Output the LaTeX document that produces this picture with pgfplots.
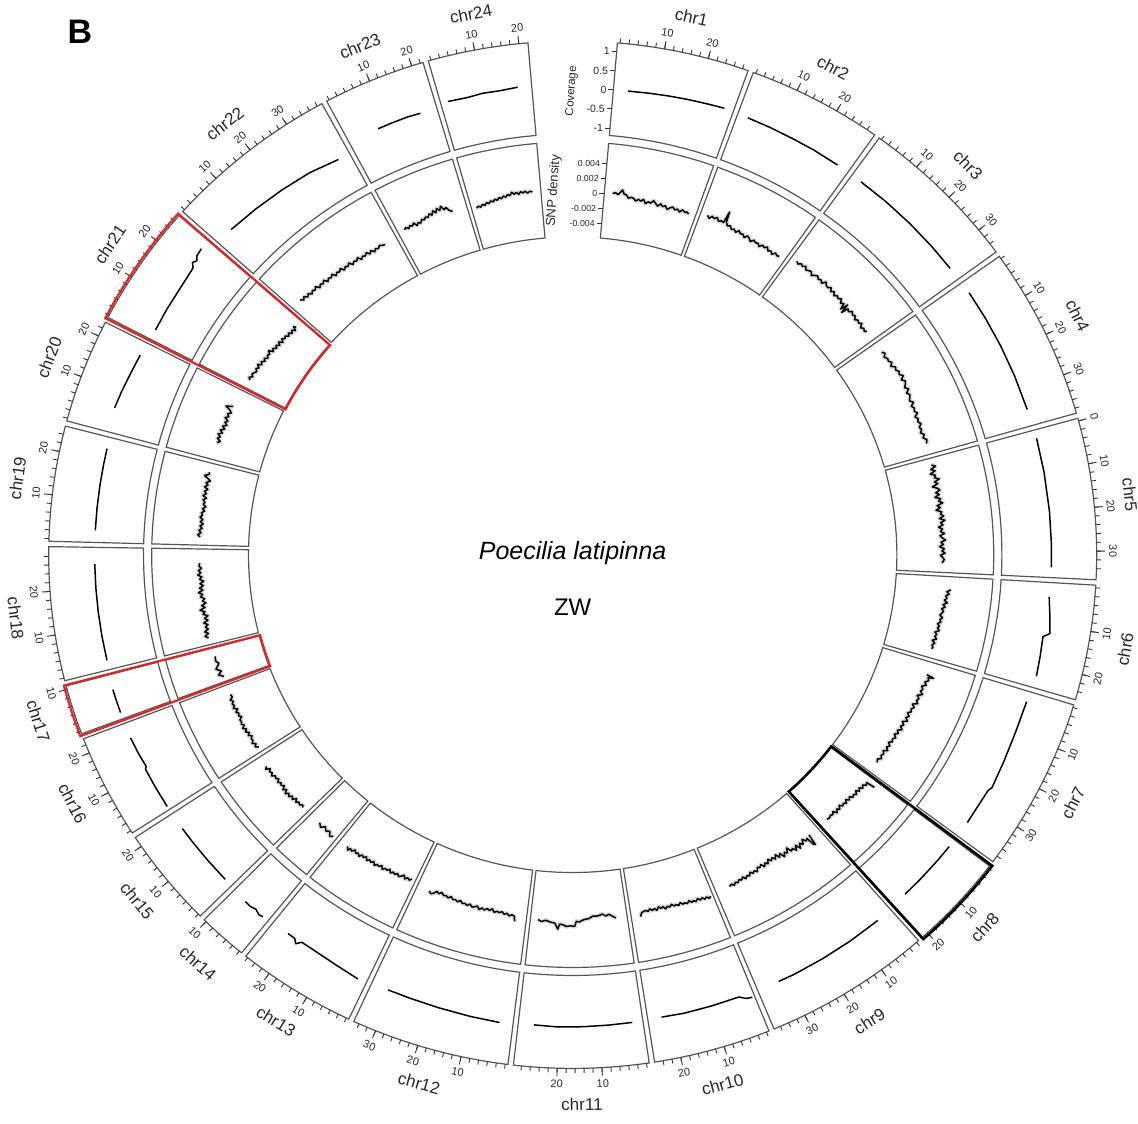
\documentclass[border=0pt]{standalone}
\usepackage{pgfplots}
\pgfplotsset{compat=1.18}
\usepackage{fontspec}
\setmainfont{Liberation Sans}
\definecolor{boxc}{RGB}{85,85,85}
\definecolor{hired}{RGB}{214,40,45}

\pgfplotsset{
  /pgfplots/table/cov/.style={
    /pgfplots/table/x expr={573+1.02*(467+38.5*\thisrow{v})*sin(#1+0.49*\thisrow{p})},
    /pgfplots/table/y expr={555-(467+38.5*\thisrow{v})*cos(#1+0.49*\thisrow{p})}},
  /pgfplots/table/snp/.style={
    /pgfplots/table/x expr={573+1.02*(363+7500*\thisrow{v})*sin(#1+0.49*\thisrow{p})},
    /pgfplots/table/y expr={555-(363+7500*\thisrow{v})*cos(#1+0.49*\thisrow{p})}},
}
\tikzset{
  boxst/.style={draw=boxc, line width=1.2pt},
  tickst/.style={draw=black!80, line width=0.9pt},
  tlab/.style={font=\fontsize{11}{12}\selectfont, inner sep=0pt, text=black!85},
  clab/.style={font=\fontsize{17}{18}\selectfont, inner sep=0pt, text=black!85},
}
\newcommand{\sect}[5]{%
  \draw[#5] plot[domain=#1:#2, samples=30, variable=\u] ({573+1.02*#4*sin(\u)},{555-#4*cos(\u)})
     -- plot[domain=#2:#1, samples=30, variable=\u] ({573+1.02*#3*sin(\u)},{555-#3*cos(\u)}) -- cycle;}
\newcommand{\chrom}[5]{%
  \sect{#2}{#3}{421}{514}{boxst}
  \sect{#2}{#3}{318}{413}{boxst}
  \draw[tickst] \foreach \k in {0,2,...,#4} {({573+1.02*514*sin(#2+0.3+0.49*\k)},{555-514*cos(#2+0.3+0.49*\k)}) -- ({573+1.02*518.5*sin(#2+0.3+0.49*\k)},{555-518.5*cos(#2+0.3+0.49*\k)})};
  \draw[tickst] \foreach \k in {#5} {({573+1.02*514*sin(#2+0.3+0.49*\k)},{555-514*cos(#2+0.3+0.49*\k)}) -- ({573+1.02*522*sin(#2+0.3+0.49*\k)},{555-522*cos(#2+0.3+0.49*\k)})};
  \path \foreach \k in {#5} {({573+1.02*530*sin(#2+0.3+0.49*\k)},{555-530*cos(#2+0.3+0.49*\k)}) node[tlab, rotate={cos(#2+0.3+0.49*\k)>=0 ? -(#2+0.3+0.49*\k) : 180-(#2+0.3+0.49*\k)}] {\k}};
  \node[clab, rotate={cos((#2+#3)/2)>=0 ? -((#2+#3)/2) : 180-((#2+#3)/2)}] at ({573+1.02*550*sin((#2+#3)/2)},{555-550*cos((#2+#3)/2)}) {#1};
}
\newcommand{\covplot}[2]{\addplot[black, line width=1.5pt, no markers, line join=round] table[cov=#1, row sep=\\] {#2};}
\newcommand{\snpplot}[2]{\addplot[gray!28, line width=4.5pt, no markers, line join=round] table[snp=#1, row sep=\\] {#2};
  \addplot[black, line width=1.5pt, no markers, line join=round] table[snp=#1, row sep=\\] {#2};}

\begin{document}
\begin{tikzpicture}
\begin{axis}[x=1pt, y=1pt, y dir=reverse, xmin=0, xmax=1138, ymin=0, ymax=1124,
  hide axis, clip=false, scale only axis]
\path (0,0) rectangle (1138,1124);

% chromosome frames: name, start angle, end angle, last minor tick, labelled ticks
\chrom{chr1}{4.9}{19.56}{28}{10,20}
\chrom{chr2}{20.16}{35.2}{28}{10,20}
\chrom{chr3}{35.8}{53.9}{34}{10,20,30}
\chrom{chr4}{54.5}{74.0}{38}{10,20,30}
\chrom{chr5}{74.6}{92.8}{34}{0,10,20,30}
\chrom{chr6}{93.4}{106.4}{24}{10,20}
\chrom{chr7}{107.0}{126.7}{38}{10,20,30}
\chrom{chr8}{127.3}{138.1}{20}{10,20}
\chrom{chr9}{138.7}{157.4}{36}{10,20,30}
\chrom{chr10}{158.0}{171.0}{24}{10,20}
\chrom{chr11}{171.6}{186.5}{28}{10,20}
\chrom{chr12}{187.1}{204.7}{34}{10,20,30}
\chrom{chr13}{205.3}{218.6}{26}{10,20}
\chrom{chr14}{219.2}{224.7}{10}{10}
\chrom{chr15}{225.3}{236.6}{20}{10,20}
\chrom{chr16}{237.2}{249.0}{22}{10,20}
\chrom{chr17}{249.6}{255.2}{10}{10}
\chrom{chr18}{255.8}{270.9}{28}{10,20}
\chrom{chr19}{271.5}{284.5}{24}{10,20}
\chrom{chr20}{285.1}{296.9}{22}{10,20}
\chrom{chr21}{297.5}{311.3}{26}{10,20}
\chrom{chr22}{311.9}{331.4}{38}{10,20,30}
\chrom{chr23}{332.0}{343.4}{22}{10,20}
\chrom{chr24}{344.0}{355.1}{20}{10,20}

% coverage track
\covplot{5.2}{p v\\ 3 0.0\\ 8 0.02\\ 13 0.04\\ 18 0.06\\ 23 0.08\\ 27 0.1\\}
\covplot{20.46}{p v\\ 2 0.07\\ 8 0.06\\ 14 0.05\\ 20 0.05\\ 27 0.04\\}
\covplot{36.1}{p v\\ 2.2 0.03\\ 10 0.03\\ 18 0.03\\ 26 0.03\\ 33 0.03\\}
\covplot{54.8}{p v\\ 2.5 0.05\\ 10 0.05\\ 18 0.05\\ 26 0.05\\ 35 0.05\\}
\covplot{74.9}{p v\\ 1.5 0.07\\ 10 0.07\\ 20 0.07\\ 28 0.07\\ 34 0.07\\}
\covplot{93.7}{p v\\ 3 0.06\\ 7 0.12\\ 12 0.2\\ 13 0.04\\ 18 0.07\\ 23 0.1\\}
\covplot{107.3}{p v\\ 2 0.05\\ 10 0.06\\ 18 0.1\\ 25 0.15\\ 26 0.1\\ 35.5 0.1\\}
\covplot{127.6}{p v\\ 1.5 0.1\\ 6 0.1\\ 12 0.1\\ 17.5 0.1\\}
\covplot{139.0}{p v\\ 3.5 0.15\\ 12 0.15\\ 20 0.15\\ 28 0.15\\ 32 0.14\\}
\covplot{158.3}{p v\\ 0 0.25\\ 1.5 0.22\\ 3 0.12\\ 10 0.12\\ 17 0.12\\ 22.5 0.1\\}
\covplot{171.9}{p v\\ 2 0.12\\ 8 0.13\\ 14 0.14\\ 20 0.15\\ 26 0.13\\}
\covplot{187.4}{p v\\ 2.7 0.17\\ 10 0.15\\ 18 0.13\\ 25 0.12\\ 31 0.12\\}
\covplot{205.6}{p v\\ 1.6 0.18\\ 8 0.12\\ 15 0.08\\ 18 0.08\\ 19 0.2\\ 20 0.1\\ 22 0.1\\}
\covplot{219.5}{p v\\ 1 0.15\\ 2 0.18\\ 3.5 0.12\\ 5 0.16\\ 6.7 0.15\\}
\covplot{225.6}{p v\\ 1.6 0.1\\ 8 0.1\\ 14 0.1\\ 18 0.1\\}
\covplot{237.5}{p v\\ 0.3 0.1\\ 6 0.1\\ 11 0.1\\ 11.5 0.05\\ 15 0.08\\ 19.6 0.1\\}
\covplot{249.9}{p v\\ 1 0.1\\ 4 0.1\\ 7 0.1\\}
\covplot{256.1}{p v\\ 1.8 0.05\\ 8 0.05\\ 14 0.05\\ 20 0.05\\ 26 0.05\\}
\covplot{271.8}{p v\\ 2.4 0.05\\ 8 0.05\\ 14 0.05\\ 19 0.05\\ 23 0.05\\}
\covplot{285.4}{p v\\ 5.5 0.15\\ 10 0.12\\ 15 0.08\\ 20 0.05\\}
\covplot{297.8}{p v\\ 2 0.0\\ 8 0.02\\ 13 0.03\\ 18 0.06\\ 20 0.08\\ 21 0.18\\ 22 0.12\\ 23 0.2\\ 25 0.23\\}
\covplot{312.2}{p v\\ 4 0.0\\ 12 -0.05\\ 20 -0.1\\ 28 -0.15\\ 36 -0.25\\}
\covplot{332.3}{p v\\ 7.3 0.0\\ 11 0.0\\ 15 0.0\\ 18.4 -0.02\\}
\covplot{344.3}{p v\\ 1.2 0.07\\ 6 0.05\\ 10 0.08\\ 14 0.07\\ 18.6 0.1\\}

% SNP density track
\snpplot{5.2}{p v\\ 2 0.0001\\ 3 0.0002\\ 3.8 0.0\\ 4.5 0.0004\\ 5 0.0007\\ 5.6 0.0002\\ 6.4 0.0001\\ 7.2 -0.0003\\ 8 -0.0001\\ 8.8 -0.0002\\ 9.6 -0.0005\\ 10.4 -0.0002\\ 11.2 -0.0004\\ 12 -0.0001\\ 12.8 -0.0006\\ 13.6 -0.0003\\ 14.4 -0.0004\\ 15.2 0.0\\ 16 -0.0003\\ 16.8 -0.0006\\ 17.6 -0.0002\\ 18.4 -0.0005\\ 19.2 -0.0003\\ 20 -0.0007\\ 20.8 -0.0004\\ 21.6 -0.0002\\ 22.4 -0.0005\\ 23.2 -0.0003\\ 24 -0.0006\\ 24.8 -0.0002\\ 25.6 -0.0004\\ 26.4 -0.0003\\ 27 -0.0005\\}
\snpplot{20.46}{p v\\ 1.7 0.0002\\ 2.5 -0.0001\\ 3.2 0.0003\\ 4 0.0001\\ 4.8 0.0004\\ 5.6 0.0\\ 6.4 0.0002\\ 7.2 0.0001\\ 7.6 0.0017\\ 8 0.0003\\ 8.8 -0.0001\\ 9.6 0.0001\\ 10.4 -0.0003\\ 11.2 -0.0001\\ 12 -0.0004\\ 12.8 0.0\\ 13.6 -0.0003\\ 14.4 -0.0002\\ 15.2 -0.0005\\ 16 -0.0001\\ 16.8 -0.0003\\ 17.6 -0.0006\\ 18.4 -0.0002\\ 19.2 -0.0004\\ 20 -0.0003\\ 20.8 -0.0006\\ 21.6 -0.0002\\ 22.4 -0.0004\\ 23.2 -0.0001\\ 24 -0.0005\\ 24.8 -0.0003\\ 25.6 -0.0006\\ 26.4 -0.0002\\ 27.2 -0.0004\\ 28 -0.0003\\}
\snpplot{36.1}{p v\\ 1.5 0.0005\\ 2.3 0.0003\\ 3.1 0.0006\\ 3.9 0.0004\\ 4.7 0.0007\\ 5.5 0.0003\\ 6.3 0.0005\\ 7.1 0.0006\\ 7.9 0.0002\\ 8.7 0.0005\\ 9.5 0.0007\\ 10.3 0.0004\\ 11.1 0.0006\\ 11.9 0.0003\\ 12.7 0.0008\\ 13.5 0.0005\\ 14.3 0.0004\\ 15.1 0.0007\\ 15.9 0.0003\\ 16.7 0.0006\\ 17.5 0.0002\\ 18.3 0.0005\\ 19.1 0.0003\\ 19.9 0.0006\\ 20.7 0.0001\\ 21.5 0.0004\\ 22.1 -0.0004\\ 22.6 0.0006\\ 23.1 -0.0006\\ 23.6 0.0003\\ 24.4 0.0001\\ 25.2 0.0005\\ 26 0.0002\\ 26.8 0.0004\\ 27.6 0.0\\ 28.4 0.0003\\ 29.2 0.0001\\ 30 0.0004\\ 30.8 -0.0001\\ 31.6 0.0002\\ 32.4 0.0\\ 33 0.0003\\}
\snpplot{54.8}{p v\\ 2.9 0.0002\\ 3.8 0.0005\\ 4.7 0.0001\\ 5.6 0.0004\\ 6.5 0.0003\\ 7.4 0.0006\\ 8.3 0.0002\\ 9.2 0.0007\\ 10.1 0.0005\\ 11 0.0008\\ 11.9 0.0006\\ 12.8 0.001\\ 13.7 0.0005\\ 14.6 0.0009\\ 15.5 0.0007\\ 16.4 0.0004\\ 17.3 0.0008\\ 18.2 0.0003\\ 19.1 0.0006\\ 20 0.0004\\ 20.9 0.0002\\ 21.8 0.0006\\ 22.7 0.0001\\ 23.6 0.0004\\ 24.5 0.0002\\ 25.4 0.0005\\ 26.3 0.0\\ 27.2 0.0003\\ 28.1 0.0001\\ 29 0.0004\\ 29.9 0.0\\ 30.8 0.0002\\ 31.7 -0.0001\\ 32.6 0.0003\\ 33.5 0.0\\ 34.4 0.0004\\ 35.6 0.0002\\}
\snpplot{74.9}{p v\\ 1.6 0.0\\ 2.3 0.0005\\ 3 -0.0002\\ 3.7 0.0003\\ 4.4 -0.0004\\ 5.1 0.0002\\ 5.8 0.0\\ 6.5 0.0006\\ 7.2 -0.0001\\ 7.9 0.0003\\ 8.6 -0.0005\\ 9.3 0.0001\\ 10 0.0004\\ 10.7 -0.0002\\ 11.4 0.0002\\ 12.1 -0.0004\\ 12.8 0.0003\\ 13.5 0.0\\ 14.2 0.0005\\ 14.9 -0.0003\\ 15.6 0.0001\\ 16.3 -0.0005\\ 17 0.0002\\ 17.7 0.0\\ 18.4 0.0004\\ 19.1 -0.0002\\ 19.8 0.0005\\ 20.5 -0.0001\\ 21.2 0.0002\\ 21.9 -0.0004\\ 22.6 0.0001\\ 23.3 -0.0002\\ 24 0.0003\\ 24.7 -0.0003\\ 25.4 0.0\\ 26.1 0.0004\\ 26.8 -0.0002\\ 27.5 0.0001\\ 28.2 -0.0004\\ 28.9 0.0002\\ 29.6 -0.0001\\ 30.3 0.0003\\ 31 -0.0003\\ 31.7 0.0\\ 32.4 0.0002\\ 33.5 -0.0001\\}
\snpplot{93.7}{p v\\ 3.5 0.0013\\ 4.2 0.0008\\ 4.9 0.0011\\ 5.6 0.0007\\ 6.3 0.0009\\ 7 0.0006\\ 7.7 0.001\\ 8.4 0.0005\\ 9.1 0.0008\\ 9.8 0.0004\\ 10.5 0.0007\\ 11.2 0.0005\\ 11.9 0.0003\\ 12.6 0.0007\\ 13.3 0.0004\\ 14 0.0006\\ 14.7 0.0002\\ 15.4 0.0005\\ 16.1 0.0003\\ 16.8 0.0006\\ 17.5 0.0001\\ 18.2 0.0004\\ 18.9 0.0002\\ 19.6 0.0005\\ 20.3 0.0\\ 21 0.0004\\ 21.7 0.0001\\ 22.4 0.0003\\ 23 0.0002\\}
\snpplot{107.3}{p v\\ 3.6 0.0006\\ 4 0.0016\\ 4.4 0.0009\\ 5.2 0.0011\\ 6 0.0007\\ 6.8 0.001\\ 7.6 0.0005\\ 8.4 0.0008\\ 9.2 0.0006\\ 10 0.001\\ 10.8 0.0004\\ 11.6 0.0008\\ 12.4 0.0006\\ 13.2 0.0009\\ 14 0.0003\\ 14.8 0.0007\\ 15.6 0.0004\\ 16.4 0.0006\\ 17.2 0.0002\\ 18 0.0006\\ 18.8 0.0003\\ 19.6 0.0007\\ 20.4 0.0001\\ 21.2 0.0005\\ 22 0.0002\\ 22.8 0.0006\\ 23.6 0.0001\\ 24.4 0.0004\\ 25.2 0.0\\ 26 0.0004\\ 26.8 0.0001\\ 27.6 0.0003\\ 28.4 -0.0001\\ 29.2 0.0003\\ 30 0.0\\ 30.8 0.0004\\ 31.6 -0.0001\\ 32.4 0.0002\\ 33.2 0.0\\ 34 0.0003\\ 34.8 -0.0001\\ 35.8 0.0001\\}
\snpplot{127.6}{p v\\ 1.2 0.0018\\ 1.5 0.0006\\ 2.2 0.0008\\ 2.9 0.0004\\ 3.6 0.0007\\ 4.3 0.0003\\ 5 0.0006\\ 5.7 0.0002\\ 6.4 0.0006\\ 7.1 0.0003\\ 7.8 0.0005\\ 8.5 0.0001\\ 9.2 0.0004\\ 9.9 0.0\\ 10.6 0.0004\\ 11.3 0.0001\\ 12 0.0003\\ 12.7 -0.0001\\ 13.4 0.0003\\ 14.1 0.0\\ 14.8 0.0004\\ 15.5 -0.0001\\ 16.2 0.0002\\ 16.9 0.0\\ 17.6 0.0002\\ 18.6 0.0001\\}
\snpplot{139.0}{p v\\ 2.9 0.0001\\ 3.3 0.0016\\ 3.7 0.0014\\ 4.1 0.0003\\ 4.8 0.0005\\ 5.5 0.0\\ 6.2 0.0006\\ 6.9 0.0002\\ 7.6 0.0008\\ 8.3 0.0001\\ 9 0.0007\\ 9.7 0.0002\\ 10.4 0.0004\\ 11.1 -0.0003\\ 11.8 0.0003\\ 12.5 0.0\\ 13.2 0.0005\\ 13.9 -0.0002\\ 14.6 0.0002\\ 15.3 -0.0004\\ 16 0.0001\\ 16.7 -0.0003\\ 17.4 0.0\\ 18.1 -0.0004\\ 18.8 0.0001\\ 19.5 -0.0002\\ 20.2 0.0002\\ 20.9 -0.0003\\ 21.6 0.0\\ 22.3 -0.0002\\ 23 0.0003\\ 23.7 0.0\\ 24.4 0.0002\\ 25.1 -0.0001\\ 25.8 0.0003\\ 26.5 0.0001\\ 27.2 0.0004\\ 27.9 0.0\\ 28.6 0.0003\\ 29.3 0.0001\\ 30 0.0004\\ 30.7 0.0002\\ 31.4 0.0005\\ 32.1 0.0002\\ 32.9 0.0004\\}
\snpplot{158.3}{p v\\ 0.2 0.0006\\ 0.8 0.0008\\ 1.5 0.0005\\ 2.2 0.0007\\ 2.9 0.0004\\ 3.6 0.0006\\ 4.3 0.0003\\ 5 0.0006\\ 5.7 0.0004\\ 6.4 0.0005\\ 7.1 0.0002\\ 7.8 0.0005\\ 8.5 0.0003\\ 9.2 0.0004\\ 9.9 0.0001\\ 10.6 0.0004\\ 11.3 0.0002\\ 12 0.0003\\ 12.7 0.0\\ 13.4 0.0003\\ 14.1 0.0001\\ 14.8 0.0004\\ 15.5 0.0\\ 16.2 0.0002\\ 16.9 -0.0001\\ 17.6 0.0003\\ 18.3 0.0\\ 19 0.0002\\ 19.7 -0.0001\\ 20.4 0.0002\\ 21.1 0.0\\ 21.8 0.0001\\ 22.5 0.0002\\ 23 0.0007\\}
\snpplot{171.9}{p v\\ 2.9 0.0004\\ 4 0.0001\\ 5 -0.0002\\ 6 0.0\\ 7.1 -0.0003\\ 8.5 -0.0001\\ 10.2 -0.0001\\ 11.5 0.0002\\ 13 0.0003\\ 14.5 0.0006\\ 15.4 0.0005\\ 15.9 0.0012\\ 17 0.0011\\ 18.5 0.0012\\ 19.5 0.001\\ 20.6 0.0009\\ 21.1 0.0016\\ 22.1 0.0008\\ 23.5 0.0007\\ 25 0.0005\\ 26.2 0.0007\\ 27.4 0.0005\\}
\snpplot{187.4}{p v\\ 2.9 0.0011\\ 3.3 0.0004\\ 4.1 0.0003\\ 4.9 0.0005\\ 5.7 0.0002\\ 6.5 0.0004\\ 7.3 0.0001\\ 8.1 0.0003\\ 8.9 0.0002\\ 9.7 0.0004\\ 10.5 0.0\\ 11.3 0.0003\\ 12.1 0.0001\\ 12.9 0.0004\\ 13.7 0.0002\\ 14.5 0.0005\\ 15.3 0.0001\\ 16.1 0.0003\\ 16.9 0.0004\\ 17.7 0.0001\\ 18.5 0.0004\\ 19.3 0.0002\\ 20.1 0.0003\\ 20.9 0.0\\ 21.7 0.0003\\ 22.5 0.0001\\ 23.3 0.0002\\ 24.1 -0.0001\\ 24.9 0.0002\\ 25.7 0.0\\ 26.5 0.0001\\ 27.3 -0.0002\\ 28.1 0.0001\\ 28.9 -0.0001\\ 29.7 0.0003\\ 30.5 0.0005\\ 31.2 0.0002\\}
\snpplot{205.6}{p v\\ 0.6 -0.0003\\ 1.3 0.0\\ 2 -0.0002\\ 2.7 0.0001\\ 3.4 -0.0003\\ 4.1 0.0\\ 4.8 0.0002\\ 5.5 -0.0001\\ 6.2 0.0002\\ 6.9 0.0\\ 7.6 0.0003\\ 8.3 -0.0001\\ 9 0.0002\\ 9.7 0.0001\\ 10.4 0.0004\\ 11.1 0.0\\ 11.8 0.0003\\ 12.5 0.0002\\ 13.2 0.0005\\ 13.9 0.0001\\ 14.6 0.0004\\ 15.3 0.0002\\ 16 0.0005\\ 16.7 0.0001\\ 17.4 0.0004\\ 18.1 0.0002\\ 18.8 0.0006\\ 19.5 0.0003\\ 20.2 0.0005\\ 20.9 0.0002\\ 21.6 0.0006\\ 22.3 0.0004\\ 22.8 0.0008\\ 23.5 0.0004\\}
\snpplot{219.5}{p v\\ 0.6 0.0005\\ 1.5 0.0008\\ 2.5 0.0003\\ 3.5 0.0006\\ 4.5 0.0002\\ 5.5 0.0007\\ 6.7 0.0003\\}
\snpplot{225.6}{p v\\ 1.4 0.0004\\ 2.1 0.0002\\ 2.8 0.0005\\ 3.5 0.0003\\ 4.2 0.0006\\ 4.9 0.0002\\ 5.6 0.0007\\ 6.3 0.0004\\ 7 0.0008\\ 7.7 0.0005\\ 8.4 0.0009\\ 9.1 0.0004\\ 9.8 0.0008\\ 10.5 0.0003\\ 11.2 0.0006\\ 11.9 0.0004\\ 12.6 0.0007\\ 13.3 0.0003\\ 14 0.0006\\ 14.7 0.0004\\ 15.4 0.0008\\ 16.1 0.0005\\ 16.8 0.0007\\ 17.5 0.0004\\ 18.2 0.0009\\ 18.8 0.0006\\}
\snpplot{237.5}{p v\\ 1 0.0\\ 1.7 0.0004\\ 2.4 0.0001\\ 3.1 0.0005\\ 3.8 0.0002\\ 4.5 0.0003\\ 5.2 0.0\\ 5.9 0.0004\\ 6.6 0.0001\\ 7.3 0.0005\\ 8 0.0002\\ 8.7 0.0006\\ 9.4 0.0002\\ 10.1 0.0005\\ 10.8 0.0003\\ 11.5 0.0004\\ 12.2 0.0\\ 12.9 0.0003\\ 13.6 0.0001\\ 14.3 0.0004\\ 15 0.0\\ 15.7 0.0005\\ 16.4 0.0002\\ 17.1 0.0004\\ 17.8 0.0001\\ 18.5 0.0004\\ 19.2 0.0\\ 20.2 0.0001\\}
\snpplot{249.9}{p v\\ 1 0.0\\ 2 0.0006\\ 3 0.0001\\ 4 0.0007\\ 5.5 0.0001\\ 6.5 0.0004\\ 8 0.0003\\}
\snpplot{256.1}{p v\\ 1.6 0.0005\\ 2.3 0.0009\\ 3 0.0004\\ 3.7 0.0008\\ 4.4 0.0003\\ 5.1 0.0006\\ 5.8 0.0002\\ 6.5 0.0007\\ 7.2 0.0001\\ 7.9 0.0005\\ 8.6 0.0\\ 9.3 0.0006\\ 10 0.0003\\ 10.7 0.0009\\ 11.4 0.0002\\ 12.1 0.0006\\ 12.8 0.0\\ 13.5 0.0004\\ 14.2 0.0001\\ 14.9 0.0006\\ 15.6 0.0003\\ 16.3 0.0008\\ 17 0.0002\\ 17.7 0.0006\\ 18.4 0.0001\\ 19.1 0.0005\\ 19.8 0.0\\ 20.5 0.0005\\ 21.2 0.0002\\ 21.9 0.0007\\ 22.6 0.0003\\ 23.3 0.0006\\ 24 0.0002\\ 24.7 0.0005\\ 25.7 0.0004\\}
\snpplot{271.8}{p v\\ 2 0.0004\\ 2.7 0.0007\\ 3.4 0.0003\\ 4.1 0.0006\\ 4.8 0.0002\\ 5.5 0.0005\\ 6.2 0.0001\\ 6.9 0.0005\\ 7.6 0.0002\\ 8.3 0.0006\\ 9 0.0003\\ 9.7 0.0005\\ 10.4 0.0001\\ 11.1 0.0004\\ 11.8 0.0\\ 12.5 0.0004\\ 13.2 0.0002\\ 13.9 0.0005\\ 14.6 0.0001\\ 15.3 0.0006\\ 16 0.0002\\ 16.7 0.0005\\ 17.4 0.0001\\ 18.1 0.0006\\ 18.8 0.0002\\ 19.5 0.0005\\ 20.2 0.0\\ 20.9 0.0004\\ 21.6 0.0009\\ 22.3 0.0003\\ 22.9 0.0004\\}
\snpplot{285.4}{p v\\ 4.9 0.0005\\ 5.6 0.0001\\ 6.3 0.0006\\ 7 0.0003\\ 7.7 0.0007\\ 8.4 0.0002\\ 9.1 0.0006\\ 9.8 0.0001\\ 10.5 0.0005\\ 11.2 0.0\\ 11.9 0.0004\\ 12.6 0.0001\\ 13.3 0.0006\\ 14 0.0002\\ 14.7 0.0005\\ 15.4 0.0001\\ 16.1 0.0004\\ 16.8 0.0011\\ 17.2 0.0006\\ 17.6 0.0002\\}
\snpplot{297.8}{p v\\ 2.2 -0.0002\\ 2.9 0.0001\\ 3.6 -0.0003\\ 4.3 0.0\\ 5 -0.0002\\ 5.7 -0.0004\\ 6.4 -0.0001\\ 7.1 -0.0004\\ 7.8 0.0\\ 8.5 -0.0005\\ 9.2 -0.0002\\ 9.9 -0.0006\\ 10.6 -0.0003\\ 11.3 -0.0007\\ 12 -0.0004\\ 12.7 -0.0006\\ 13.4 -0.0002\\ 14.1 -0.0008\\ 14.8 -0.0005\\ 15.5 -0.0009\\ 16.2 -0.0006\\ 16.9 -0.001\\ 17.6 -0.0006\\ 18.3 -0.0011\\ 19 -0.0007\\ 19.7 -0.001\\ 20.4 -0.0008\\ 21.1 -0.0012\\ 21.8 -0.0009\\ 22.5 -0.0013\\ 23.2 -0.001\\ 23.9 -0.0014\\ 24.5 -0.0009\\ 24.9 -0.0012\\}
\snpplot{312.2}{p v\\ 2.9 0.0009\\ 3.7 0.0005\\ 4.5 0.0008\\ 5.3 0.0004\\ 6.1 0.0007\\ 6.9 0.0003\\ 7.7 0.0006\\ 8.5 0.0004\\ 9.3 0.0007\\ 10.1 0.0002\\ 10.9 0.0005\\ 11.7 0.0003\\ 12.5 0.0006\\ 13.3 0.0001\\ 14.1 0.0004\\ 14.9 0.0002\\ 15.7 0.0005\\ 16.5 0.0\\ 17.3 0.0003\\ 18.1 0.0001\\ 18.9 0.0004\\ 19.7 -0.0001\\ 20.5 0.0002\\ 21.3 0.0\\ 22.1 0.0003\\ 22.9 -0.0002\\ 23.7 0.0001\\ 24.5 -0.0001\\ 25.3 0.0002\\ 26.1 -0.0003\\ 26.9 0.0\\ 27.7 -0.0002\\ 28.5 0.0001\\ 29.3 -0.0003\\ 30.1 0.0\\ 30.9 -0.0004\\ 31.7 -0.0001\\ 32.5 -0.0003\\ 33.3 0.0\\ 34.1 -0.0002\\ 35 -0.0003\\}
\snpplot{332.3}{p v\\ 1.6 0.0002\\ 2.3 0.0004\\ 3 0.0001\\ 3.7 0.0004\\ 4.4 0.0002\\ 5.1 0.0005\\ 5.8 0.0\\ 6.5 0.0003\\ 7.2 0.0001\\ 7.9 0.0005\\ 8.6 0.0003\\ 9.3 0.0006\\ 10 0.0004\\ 10.7 0.0008\\ 11.4 0.0005\\ 12.1 0.001\\ 12.8 0.0006\\ 13.5 0.0011\\ 14.2 0.0007\\ 14.9 0.0012\\ 15.6 0.0006\\ 16.3 0.0008\\ 17 0.0003\\ 17.9 0.0\\}
\snpplot{344.3}{p v\\ 1 -0.0005\\ 1.7 -0.0003\\ 2.4 -0.0005\\ 3.1 -0.0002\\ 3.8 -0.0004\\ 4.5 -0.0001\\ 5.2 -0.0003\\ 5.9 0.0\\ 6.6 -0.0002\\ 7.3 0.0001\\ 8 -0.0001\\ 8.7 0.0002\\ 9.4 0.0\\ 10.1 0.0003\\ 10.8 0.0001\\ 11.5 0.0004\\ 12.2 0.0002\\ 12.9 0.0006\\ 13.6 0.0003\\ 14.3 0.0005\\ 15 0.0002\\ 15.7 0.0005\\ 16.4 0.0003\\ 17.1 0.0005\\ 17.8 0.0002\\ 18.5 0.0004\\ 19.4 0.0003\\}

% highlight boxes
\sect{127.1}{138.2}{318}{516}{draw=black, line width=2.6pt}
\sect{297.3}{311.4}{317}{516}{draw=hired, line width=2.2pt}
\sect{249.4}{255.3}{317}{516}{draw=hired, line width=2.2pt}

% y axes in the top gap
\draw[tickst] \foreach \r/\l in {505.5/1, 486.25/0.5, 467/0, 447.75/-0.5, 428.5/-1} {({573+1.02*\r*sin(4.9)},{555-\r*cos(4.9)}) -- ++(-5,0) node[anchor=east, inner sep=1.5pt, font=\fontsize{10.5}{11}\selectfont, text=black!85] {\l}};
\draw[tickst] \foreach \r/\l in {393/0.004, 378/0.002, 363/0, 348/-0.002, 333/-0.004} {({573+1.02*\r*sin(4.9)},{555-\r*cos(4.9)}) -- ++(-5,0) node[anchor=east, inner sep=1.5pt, font=\fontsize{8.8}{9}\selectfont, text=black!85] {\l}};
\node[rotate=86, font=\fontsize{11.5}{12}\selectfont, text=black!85] at (572,91) {Coverage};
\node[rotate=86, font=\fontsize{13}{14}\selectfont, text=black!85] at (554,191) {SNP density};

% centre and panel label
\node[font=\fontsize{25}{28}\selectfont\itshape] at (573,553) {Poecilia latipinna};
\node[font=\fontsize{24}{28}\selectfont] at (573,608) {ZW};
\node[font=\fontsize{34}{38}\selectfont\bfseries] at (80,32) {B};
\end{axis}
\end{tikzpicture}
\end{document}
